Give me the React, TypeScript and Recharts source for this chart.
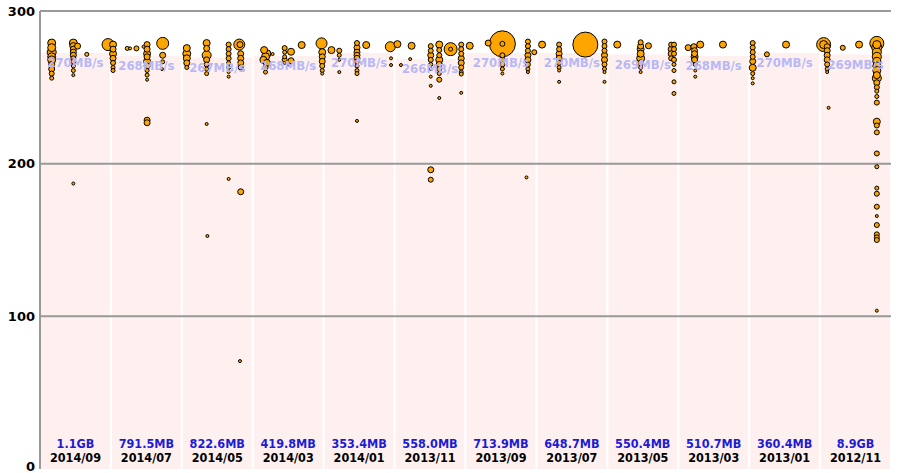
import React from "react";
import {
  ScatterChart,
  Scatter,
  XAxis,
  YAxis,
  ReferenceArea,
  ReferenceLine,
  Label,
} from "recharts";

// columns, newest first
const months = ["2014/09", "2014/07", "2014/05", "2014/03", "2014/01", "2013/11", "2013/09", "2013/07", "2013/05", "2013/03", "2013/01", "2012/11"];
const sizes = ["1.1GB", "791.5MB", "822.6MB", "419.8MB", "353.4MB", "558.0MB", "713.9MB", "648.7MB", "550.4MB", "510.7MB", "360.4MB", "8.9GB"];
const rates = [270, 268, 267, 268, 270, 266, 270, 270, 269, 268, 270, 269];

// [x, speed, radius]
const sep14 = [[0.165,279,4],[0.165,276,4],[0.165,273,4.5],[0.165,270,4],[0.165,268,4],[0.165,265,3],[0.165,262,3],[0.165,259,2.5],[0.165,256,2],
  [0.47,279,4],[0.47,277,3.5],[0.47,275,3],[0.47,273,3],[0.47,271,3],[0.47,269,2.5],[0.47,267,2.5],[0.47,264,2],[0.47,261,2],[0.47,258,1.5],[0.47,187,1.5],[0.53,277,3],
  [0.66,271.6,2],[0.96,278,6]];
const jul14 = [[1.03,278,3.5],[1.03,275,3],[1.03,272,3.5],[1.03,269,3],[1.03,266,2.5],[1.03,263,2],[1.03,261,2],
  [1.23,275.5,2],[1.27,275.5,1.5],[1.36,275.5,2.5],[1.46,276.6,1.5],
  [1.51,278,3],[1.51,275,3],[1.51,272,3.5],[1.51,270,3],[1.51,267,3.5],[1.51,264,3],[1.51,261,2],[1.51,258,2],[1.51,255,1.5],[1.51,228.5,3],[1.51,226.8,3],
  [1.73,278.8,6],[1.73,271,3],[1.73,266.7,2],[1.72,262,1.5]];
const may14 = [[2.07,275.7,3.5],[2.07,272,4],[2.07,269,3.5],[2.07,266,3],[2.07,263,2],
  [2.35,279,3.5],[2.35,275.5,3],[2.35,271,4.5],[2.35,268,3],[2.35,265,2.5],[2.35,262,2],[2.35,259,2],[2.35,226,1.5],[2.36,152.6,1.5],
  [2.66,278,2.5],[2.66,275,2.5],[2.66,272,2.5],[2.66,269,2.5],[2.66,266,2],[2.66,263,2],[2.66,260,1.5],[2.66,257,1.5],[2.66,190,1.5],
  [2.81,278,5.5],[2.82,278,3],[2.83,272,3],[2.83,269,3],[2.83,266,3],[2.83,263,2.5],[2.83,181.6,3],[2.82,70.7,1.5]];
const mar14 = [[3.16,274.4,3.5],[3.2,272,4],[3.18,270,4],[3.15,268,3.5],[3.2,266,3.5],[3.18,263,2.5],[3.18,260,2],
  [3.28,271.8,1.5],
  [3.45,275.7,2.5],[3.45,273,2],[3.45,270,2],[3.45,268,2.5],[3.45,266,1.5],
  [3.54,273.3,3.5],[3.54,267.4,3],[3.5,265,1.5],
  [3.69,277.7,3.5],
  [3.97,278.8,5.5],[3.98,273,3.5],[3.98,270,3],[3.98,267,3],[3.98,264,2.5],[3.98,261,2],[3.98,259,1.5]];
const jan14 = [[4.11,274.4,3.5],
  [4.22,274,2.5],[4.22,271,2],[4.22,268,1.5],[4.22,260,1.5],
  [4.47,279,2.5],[4.47,276,3],[4.47,273,3],[4.47,271,3],[4.47,269,3],[4.47,267,2.5],[4.47,264,2],[4.47,261,2],[4.47,259,2],[4.47,228,1.5],
  [4.6,277.7,3.5],
  [4.94,276.6,5],[4.95,269,1.5],[4.95,264.6,1.5]];
const nov13 = [[5.04,278.3,3.5],[5.09,264.6,1.5],[5.24,277.2,3.5],[5.22,268.5,1.5],
  [5.51,277,2.5],[5.51,274,2.5],[5.51,271,3],[5.51,268,2.5],[5.51,265,2],[5.51,262,1.5],[5.51,257,1.5],[5.51,251,1.5],[5.51,196,3],[5.51,189.5,2.5],
  [5.63,278,3.5],[5.63,274.4,2.5],[5.63,271,2.5],[5.63,268,3.5],[5.63,265,3],[5.63,262,2.5],[5.63,259,2],[5.63,255,2.5],[5.63,243,1.5],
  [5.79,275,6.5],[5.79,275,2],
  [5.94,278,2.5],[5.94,275,2.5],[5.94,272,2.5],[5.94,269,3],[5.94,266,3],[5.94,263,2.5],[5.94,260,2],[5.94,258.7,2],[5.94,246.4,1.5],
  [6.06,277.2,3.5]];
const sep13 = [[6.32,279,3],[6.52,278.5,13],[6.52,278.5,2.5],[6.52,271,2.5],[6.52,268,3],[6.52,265,2.5],[6.52,262,2],[6.52,259,1.5],[6.86,191,1.5],
  [6.88,280,2.5],[6.88,277,2.5],[6.88,274,2.5],[6.88,271,3],[6.88,268,3],[6.88,265,2.5],[6.88,262,2],[6.88,260,1.5],
  [6.97,273,2.5],[7.08,278,3.5]];
const jul13 = [[7.32,278,2.5],[7.32,275,2.5],[7.32,272,3],[7.32,269,3],[7.32,266,2.5],[7.32,263,2],[7.32,261,1.5],[7.32,253.6,1.5],
  [7.69,278,12.5],
  [7.96,280,2.5],[7.96,277,2.5],[7.96,274,2.5],[7.96,271,3],[7.96,268,3],[7.96,265,2.5],[7.96,262,2],[7.96,260,1.5],[7.96,253.6,1.5],
  [8.14,278,3.5]];
const may13 = [[8.47,279.5,2.5],[8.47,277,3],[8.47,275,3.5],[8.47,272,3.5],[8.47,269,4],[8.47,266,3],[8.47,263,2],[8.47,260,1.5],
  [8.58,277.2,3],
  [8.9,278,2.5],[8.9,275,3],[8.9,272,3],[8.9,269,2.5],[8.94,278,2.5],[8.94,275,2.5],[8.94,272,2.5],[8.94,268,2.5],[8.94,265,2],[8.94,261,2],[8.94,253.6,2],[8.94,246,2]];
const mar13 = [[9.14,276,3],[9.22,276.6,3],[9.31,278,3.5],
  [9.23,274,3],[9.23,272,3],[9.23,270,3.5],[9.23,268,3],[9.24,265,2],[9.24,261,1.5],[9.24,257,1.5],
  [9.63,278,3.5]];
const jan13 = [[10.05,279,2.5],[10.05,276,2.5],[10.05,273,2.5],[10.05,270,2.5],[10.05,267,3],[10.05,262.8,3.5],[10.05,259,2],[10.05,256,1.5],[10.05,252.6,1.5],
  [10.25,271.6,2.5],[10.52,278,3.5]];
const nov12 = [[11.05,278,7],[11.05,278,4],[11.1,276.6,3],[11.1,274,3],[11.1,271,3],[11.1,268,3],[11.1,265,2.5],[11.1,262,2],[11.1,260,1.5],[11.12,236.6,1.5],
  [11.32,275.9,2.5],[11.55,278,3.5],
  [11.8,278.8,7],[11.8,278,4],[11.8,276,5],[11.8,273,4.5],[11.8,270,4.5],[11.8,267,4],[11.8,264,4],[11.8,261,4],[11.8,258,3.5],[11.8,256,4.5],[11.8,253,3],
  [11.8,250,2.5],[11.8,247.5,2],[11.8,244,2],[11.8,240,2.5],[11.8,227.5,3.5],[11.8,225,2.5],[11.8,220.5,2.5],[11.8,206.7,2.5],[11.8,198,2],[11.8,184,2],
  [11.8,180.3,2.5],[11.8,171.8,2.5],[11.8,165.7,1.5],[11.8,159.8,2.5],[11.8,153.7,2.5],[11.8,151.7,2.5],[11.8,150,2.5],[11.8,103.7,1.5]];

const yTicks = [0, 100, 200, 300];

const points = [sep14, jul14, may14, mar14, jan14, nov13, sep13, jul13, may13, mar13, jan13, nov12]
  .flat()
  .map(([x, y, r]) => ({ x, y, r }))
  .sort((a, b) => b.r - a.r);

const labelFont = "'DejaVu Sans Condensed', 'DejaVu Sans', sans-serif";

const Dot = (props: any) => {
  const { cx, cy, payload } = props;
  if (cx == null || cy == null) return null;
  return <circle cx={cx} cy={cy} r={payload.r} fill="#FFA500" stroke="#000" strokeWidth={1} />;
};

// keep the "0" inside the picture
const YTick = (props: any) => {
  const { x, y, payload } = props;
  const lift = payload.value === 0 ? -3 : 0;
  return (
    <text
      x={x}
      y={y + lift}
      dy="0.36em"
      textAnchor="end"
      fill="#000"
      fontSize={13}
      fontWeight="bold"
      fontFamily="'DejaVu Sans', sans-serif"
    >
      {payload.value}
    </text>
  );
};

export default function App() {
  return (
    <div style={{ position: "absolute", left: 0, top: 0, background: "#fff" }}>
      <ScatterChart width={898} height={473} margin={{ top: 11, right: 7, bottom: 4, left: 0 }}>
        <XAxis
          type="number"
          dataKey="x"
          domain={[0, 12]}
          height={0}
          tick={false}
          tickLine={false}
          axisLine={{ stroke: "#999", strokeWidth: 2 }}
        />
        <YAxis
          type="number"
          dataKey="y"
          domain={[0, 300]}
          ticks={yTicks}
          interval={0}
          width={40}
          tickSize={0}
          tickMargin={5}
          axisLine={{ stroke: "#999", strokeWidth: 2 }}
          tick={<YTick />}
        />
        {months.map((m, i) => (
          <ReferenceArea
            key={m}
            x1={i + 0.015}
            x2={i + 0.985}
            y1={0}
            y2={rates[i] + 2.5}
            fill="#fff0f0"
            fillOpacity={1}
            stroke="none"
          >
            <Label position="insideTop" offset={5} value={`${rates[i]}MB/s`} fill="#b8b8f6" fontSize={13} fontWeight="bold" fontFamily={labelFont} />
            <Label position="insideBottom" offset={21} value={sizes[i]} fill="#1c1cd6" fontSize={12.5} fontWeight="bold" fontFamily={labelFont} />
            <Label position="insideBottom" offset={7} value={m} fill="#000" fontSize={12.5} fontWeight="bold" fontFamily={labelFont} />
          </ReferenceArea>
        ))}
        {yTicks.slice(1).map((t) => (
          <ReferenceLine key={t} y={t} stroke="#999" strokeWidth={2} />
        ))}
        <Scatter data={points} shape={Dot} isAnimationActive={false} />
      </ScatterChart>
    </div>
  );
}
